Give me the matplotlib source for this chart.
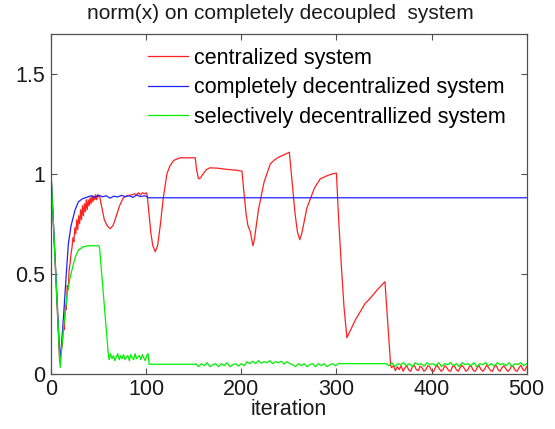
import numpy as np
import matplotlib.pyplot as plt

plt.rcParams['font.family'] = ['Liberation Sans', 'DejaVu Sans']

# centralized system (red)
red_x = [0, 9, 12, 13, 14, 15, 16, 17, 18, 19, 20, 21, 22, 23, 24, 25, 26, 27, 28, 29,
         30, 31, 32, 33, 34, 35, 36, 37, 38, 39, 40, 41, 42, 43, 44, 45, 46, 47, 48, 49,
         50, 51, 53, 56, 59, 62, 65, 68, 72, 76, 80, 85, 88, 90, 92, 94, 96, 98, 100, 101,
         103, 105, 107, 109.5, 112, 115, 118, 121.8, 125, 129, 133, 136, 151.6, 153, 155,
         157, 160, 163, 167, 175, 185, 195, 200.7, 202.5, 205, 207, 209.5, 211, 212.3, 214, 216, 218, 220,
         224, 230.5, 235, 240, 245, 250.5, 252, 254, 256.5, 259, 261.4, 263.5, 266, 269, 272.6, 277, 283,
         290, 296, 300, 302, 305, 308, 311, 315, 320, 325, 330, 336, 343, 351, 354, 357]
red_y = [1.0, 0.06, 0.15, 0.24, 0.22, 0.34, 0.32, 0.44, 0.42, 0.52, 0.55, 0.60, 0.63, 0.68, 0.66, 0.73, 0.70, 0.77, 0.72, 0.79,
         0.75, 0.82, 0.77, 0.84, 0.79, 0.85, 0.81, 0.87, 0.82, 0.87, 0.84, 0.88, 0.85, 0.89, 0.86, 0.89, 0.87, 0.895, 0.87, 0.895,
         0.885, 0.89, 0.84, 0.77, 0.74, 0.725, 0.74, 0.78, 0.84, 0.88, 0.89, 0.895, 0.90, 0.895, 0.905, 0.895, 0.905, 0.90, 0.905, 0.895,
         0.80, 0.70, 0.64, 0.61, 0.64, 0.75, 0.88, 1.0, 1.04, 1.067, 1.075, 1.08, 1.08, 1.02, 0.975,
         0.98, 1.0, 1.02, 1.03, 1.028, 1.022, 1.018, 1.013, 0.92, 0.80, 0.74, 0.71, 0.67, 0.64, 0.68, 0.75, 0.82, 0.867,
         0.96, 1.05, 1.07, 1.085, 1.095, 1.108, 1.03, 0.92, 0.80, 0.71, 0.67, 0.70, 0.76, 0.83, 0.875, 0.93, 0.975,
         0.99, 1.0, 1.003, 0.8, 0.55, 0.33, 0.18, 0.22, 0.27, 0.31, 0.35, 0.38, 0.42, 0.46, 0.25, 0.04]
red_tail = [0.03, 0.04, 0.015, 0.035, 0.02, 0.04, 0.012, 0.03, 0.04, 0.018, 0.012, 0.035, 0.04, 0.02,
            0.015, 0.038, 0.03, 0.012, 0.02, 0.04, 0.035, 0.015, 0.01, 0.03, 0.042, 0.025, 0.012, 0.02,
            0.04, 0.03, 0.015, 0.012, 0.035, 0.04, 0.02, 0.012, 0.03, 0.042, 0.03, 0.012, 0.018, 0.038,
            0.035, 0.015, 0.012, 0.03, 0.04, 0.02, 0.012, 0.025, 0.042, 0.03, 0.015, 0.012, 0.035, 0.04,
            0.02, 0.012, 0.03, 0.04, 0.025, 0.012, 0.018, 0.038, 0.035, 0.015, 0.012, 0.03, 0.042, 0.02,
            0.015, 0.035]

# completely decentralized system (blue)
blue_x = [0, 9.5, 12.3, 14, 16, 18.2, 21, 25.3, 28.7, 33, 39,
          42, 46, 50, 54, 58, 62, 66, 70, 74, 78, 82, 86, 90, 94, 98, 100, 102, 500]
blue_y = [1.0, 0.06, 0.23, 0.35, 0.5, 0.65, 0.74, 0.82, 0.86, 0.875, 0.885,
          0.89, 0.882, 0.893, 0.885, 0.89, 0.878, 0.888, 0.884, 0.892, 0.886, 0.89, 0.882, 0.894, 0.886, 0.89, 0.888, 0.88, 0.88]

# selectively decentralized system (green)
green_x = [0, 9.5, 13, 17, 20, 23.5, 26, 29, 34, 40, 50, 51, 60.3]
green_y = [1.0, 0.03, 0.23, 0.40, 0.48, 0.55, 0.59, 0.62, 0.635, 0.64, 0.64, 0.63, 0.09]
green_n1 = [0.07, 0.10, 0.075, 0.09, 0.065, 0.085, 0.10, 0.07, 0.09, 0.075, 0.095, 0.07, 0.085, 0.09,
            0.065, 0.095, 0.08, 0.07, 0.1, 0.075, 0.085, 0.09, 0.07, 0.095, 0.08, 0.065, 0.09, 0.1]
green_n2 = [0.05, 0.035, 0.05, 0.04, 0.055, 0.035, 0.045, 0.05, 0.035, 0.05, 0.04, 0.055, 0.035, 0.045,
            0.05, 0.038, 0.05, 0.04, 0.06, 0.05, 0.062, 0.05, 0.065, 0.052, 0.06, 0.055, 0.065, 0.05,
            0.06, 0.055, 0.062, 0.048, 0.06, 0.05, 0.045, 0.035, 0.05, 0.04, 0.05, 0.035, 0.045, 0.05,
            0.035, 0.05, 0.04, 0.05, 0.035, 0.045, 0.05, 0.04, 0.05]
green_n3 = [0.05, 0.04, 0.055, 0.035, 0.05, 0.045, 0.055, 0.04, 0.05, 0.035, 0.055, 0.045, 0.05, 0.038,
            0.055, 0.045, 0.05, 0.04, 0.055, 0.035, 0.05, 0.045, 0.055, 0.04, 0.05, 0.035, 0.055, 0.045,
            0.05, 0.04, 0.055, 0.035, 0.05, 0.045, 0.055, 0.04, 0.05, 0.038, 0.055, 0.045, 0.05, 0.04,
            0.055, 0.035, 0.05, 0.045, 0.055, 0.04, 0.05]

red_x = red_x + list(np.linspace(358, 500, len(red_tail)))
red_y = red_y + red_tail
green_x = (green_x + list(np.linspace(61, 102, len(green_n1))) + [103, 151.6]
           + list(np.linspace(152, 302, len(green_n2))) + [351]
           + list(np.linspace(352, 500, len(green_n3))))
green_y = green_y + green_n1 + [0.047, 0.047] + green_n2 + [0.05] + green_n3

fig = plt.figure(figsize=(5.55, 4.29), dpi=100)
ax = fig.add_axes([0.092, 0.129, 0.857, 0.792])
ax.plot(red_x, red_y, color='#ff2020', lw=0.9, label='centralized system')
ax.plot(blue_x, blue_y, color='#2020ff', lw=0.9, label='completely decentralized system')
ax.plot(green_x, green_y, color='#00f000', lw=0.9, label='selectively decentrallized system')

ax.set_xlim(0, 500)
ax.set_ylim(0, 1.7)
ax.set_xticks([0, 100, 200, 300, 400, 500])
ax.set_yticks([0, 0.5, 1, 1.5])
ax.set_yticklabels(['0', '0.5', '1', '1.5'])
ax.tick_params(direction='in', top=True, right=True, length=4, labelsize=15.5, colors='#505050',
               labelcolor='#1a1a1a', pad=4)
for s in ax.spines.values():
    s.set_color('#505050')
    s.set_linewidth(0.9)
ax.set_title('norm(x) on completely decoupled  system', fontsize=15, color='#1a1a1a', pad=11, x=0.482)
ax.set_xlabel('iteration', fontsize=15.5, color='#1a1a1a', labelpad=-1)
ax.legend(loc='upper left', bbox_to_anchor=(148 / 555, 1 - 48 / 429), bbox_transform=fig.transFigure,
          frameon=False, fontsize=15.5, borderpad=0, borderaxespad=0, handlelength=1.86,
          handletextpad=0.28, labelspacing=0.39)

plt.savefig('out.png')
